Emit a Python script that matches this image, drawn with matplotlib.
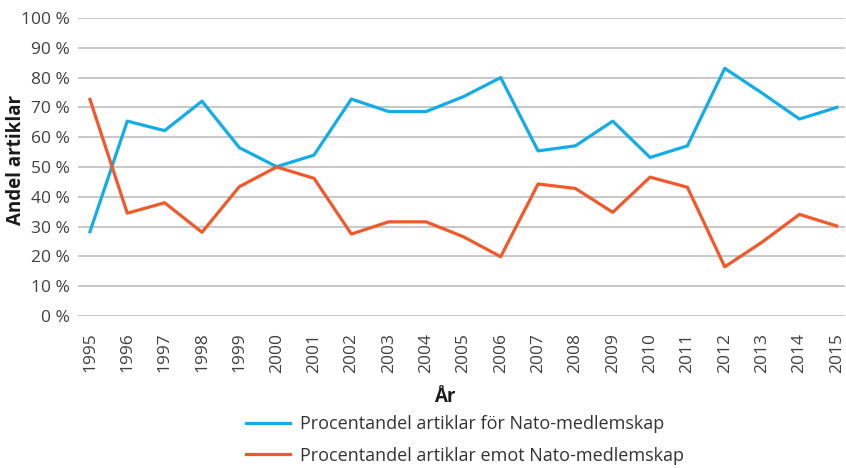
import matplotlib
matplotlib.use("Agg")
import matplotlib.pyplot as plt
from matplotlib.ticker import FuncFormatter

years = list(range(1995, 2016))
for_nato = [28.3, 65.4, 62.2, 72.1, 56.5, 50.1, 54.0, 72.8, 68.6, 68.6, 73.6,
            80.0, 55.4, 57.1, 65.4, 53.2, 57.1, 83.1, 74.8, 66.1, 70.0]
against_nato = [72.7, 34.5, 38.0, 28.1, 43.4, 50.0, 46.2, 27.5, 31.6, 31.6, 26.6,
                19.9, 44.3, 42.8, 34.8, 46.6, 43.2, 16.5, 24.8, 34.1, 30.2]
y_ticks = list(range(0, 101, 10))
label_for = "Procentandel artiklar för Nato-medlemskap"
label_against = "Procentandel artiklar emot Nato-medlemskap"

plt.rcParams['font.family'] = ['Open Sans', 'DejaVu Sans']

fig = plt.figure(figsize=(8.46, 4.68), dpi=100)
W, H = 846, 468
ax = fig.add_axes([78 / W, 1 - 316 / H, (845 - 78) / W, (316 - 18) / H])

ax.plot(years, for_nato, color='#12ade9', lw=2.3, label=label_for)
ax.plot(years, against_nato, color='#f2592a', lw=2.3, label=label_against)

ax.set_xlim(1995 - 0.32, 2015 + 0.22)
ax.set_ylim(0, 100)
ax.set_yticks(y_ticks)
ax.yaxis.set_major_formatter(FuncFormatter(lambda v, p: f"{int(v)} %"))
ax.set_xticks(years)
ax.set_xticklabels([str(y) for y in years], rotation=90)
ax.grid(axis='y', color='#c4c4c4', lw=1.3)
ax.set_axisbelow(True)
for s in ax.spines.values():
    s.set_visible(False)
ax.tick_params(length=0, labelsize=12.5, colors='#404040', pad=6)
ax.tick_params(axis='x', pad=12)

fig.text(16 / W, 1 - 160 / H, "Andel artiklar", rotation=90, ha='center', va='center',
         fontsize=13.5, fontweight='bold', color='#1a1a1a')
fig.text(445 / W, 1 - 397 / H, "År", ha='center', va='center', fontsize=13.5,
         fontweight='bold', color='#1a1a1a')

fig.legend(loc='center', bbox_to_anchor=(465 / W, 1 - 440 / H), frameon=False,
           fontsize=13, handlelength=2.4, handletextpad=0.55, labelspacing=0.75,
           labelcolor='#333333')

fig.savefig("out.png", dpi=100)
